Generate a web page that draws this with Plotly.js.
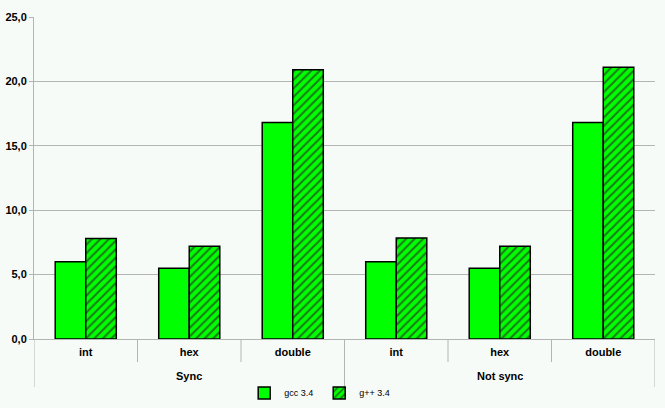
<!DOCTYPE html>
<html><head><meta charset="utf-8">
<script src="https://cdn.plot.ly/plotly-3.0.1.min.js"></script>
<style>html,body{margin:0;padding:0;background:#f6fbf8;}</style>
</head><body><div id="chart" style="width:665px;height:408px;"></div>
<script>
const groups = ["Sync","Sync","Sync","Not sync","Not sync","Not sync"];
const kinds = ["int","hex","double","int","hex","double"];
const gccValues = [6.0, 5.5, 16.8, 6.0, 5.5, 16.8];
const gppValues = [7.8, 7.2, 20.9, 7.85, 7.2, 21.1];
const seriesNames = ["gcc 3.4", "g++ 3.4"];

const pos = kinds.map((k, i) => i);
const plotH = 408 - 17 - 69;
const px = p => -p / plotH;
const gray = '#b4b4b4';
const baseFont = 'Liberation Sans, Arial, sans-serif';

const traces = [
  {type:'bar', name:seriesNames[0], x:pos, y:gccValues,
   marker:{color:'#00ff00', line:{color:'#000000', width:1.5}}},
  {type:'bar', name:seriesNames[1], x:pos, y:gppValues,
   marker:{color:'#00ff00', line:{color:'#000000', width:1.5},
     pattern:{shape:'/', fgcolor:'#1a7a1a', bgcolor:'#00ff00', size:6, solidity:0.35}}}
];

const shapes = [];
const annotations = [];
for (let i = 0; i <= kinds.length; i++) {
  const b = i - 0.5;
  const outer = i === 0 || i === kinds.length || groups[i] !== groups[i - 1];
  shapes.push({type:'line', xref:'x', yref:'paper', x0:b, x1:b, y0:0, y1:px(outer ? 48 : 23),
    line:{color:gray, width:1}});
}
const uniqueGroups = [...new Set(groups)];
uniqueGroups.forEach(g => {
  const idx = pos.filter(i => groups[i] === g);
  const c = (idx[0] + idx[idx.length - 1]) / 2;
  annotations.push({xref:'x', yref:'paper', x:c, y:px(37), yanchor:'middle', showarrow:false,
    text:'<b>' + g + '</b>', font:{family:baseFont, size:11, color:'#000'}});
});

const layout = {
  width:665, height:408,
  margin:{l:34, r:10, t:17, b:69},
  paper_bgcolor:'#f6fbf8', plot_bgcolor:'#f6fbf8',
  separators:',.',
  barmode:'group', bargap:0.41, bargroupgap:0,
  showlegend:true,
  legend:{orientation:'h', x:0.48, xanchor:'center', xref:'container', yref:'container', y:0.037, yanchor:'middle',
    font:{family:baseFont, size:9, color:'#000'},
    itemwidth:30, entrywidth:30, entrywidthmode:'pixels', tracegroupgap:0, bgcolor:'rgba(0,0,0,0)'},
  xaxis:{range:[-0.5, kinds.length - 0.5], showgrid:false, zeroline:false, showline:true, linecolor:gray, linewidth:1,
    tickmode:'array', tickvals:pos, ticktext:kinds, ticks:'', ticklabelstandoff:3, automargin:false,
    tickfont:{family:baseFont, size:11, color:'#000', weight:'bold'}},
  yaxis:{range:[0,25], dtick:5, tickformat:'.1f', showgrid:true, gridcolor:gray, gridwidth:1,
    showline:true, linecolor:gray, zeroline:false, ticks:'outside', ticklen:4, tickcolor:gray, automargin:false,
    tickfont:{family:baseFont, size:11, color:'#000', weight:'bold'}},
  shapes:shapes, annotations:annotations,
  font:{family:baseFont}
};
Plotly.newPlot('chart', traces, layout, {displayModeBar:false});
</script></body></html>
